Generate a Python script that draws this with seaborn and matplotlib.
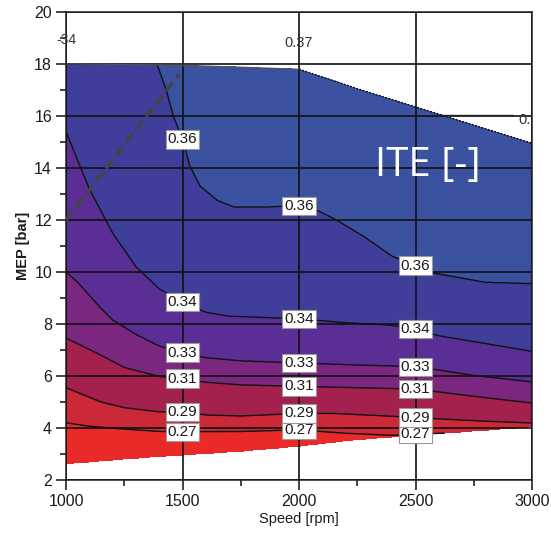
import numpy as np
import matplotlib
matplotlib.use("Agg")
import matplotlib.pyplot as plt
import seaborn as sns
import pandas as pd

# ---------------- data ----------------
# operating envelope
speed_bound = [1000, 1250, 1500, 1750, 2000, 2250, 2500, 2750, 3000]
mep_bottom = [2.62, 2.80, 2.96, 3.10, 3.30, 3.55, 3.72, 3.88, 4.04]
mep_top = [18.0, 17.98, 17.95, 17.88, 17.80, 17.05, 16.35, 15.65, 14.95]

# ITE iso-lines (speed [rpm], MEP [bar])
ite_levels = [0.27, 0.29, 0.31, 0.33, 0.34, 0.36]
c027_speed = [1000, 1100, 1250, 1400, 1500, 1750, 2000, 2200, 2400, 2600, 2800, 3000]
c027_mep = [4.20, 4.07, 3.96, 3.87, 3.86, 3.87, 3.93, 3.80, 3.72, 3.80, 3.80, 3.90]
c029_speed = [1000, 1150, 1250, 1400, 1500, 1600, 1750, 1850, 2000, 2150, 2400, 2600, 2800, 3000]
c029_mep = [5.55, 5.00, 4.78, 4.62, 4.62, 4.50, 4.46, 4.50, 4.56, 4.56, 4.45, 4.35, 4.26, 4.19]
c031_speed = [1000, 1150, 1250, 1400, 1500, 1600, 1750, 2000, 2250, 2500, 2750, 3000]
c031_mep = [7.46, 6.80, 6.33, 5.98, 5.90, 5.76, 5.66, 5.60, 5.55, 5.50, 5.22, 4.96]
c033_speed = [1000, 1050, 1100, 1150, 1200, 1300, 1400, 1500, 1600, 1750, 2000, 2250, 2500, 2750, 3000]
c033_mep = [10.0, 9.60, 9.10, 8.60, 8.15, 7.60, 7.15, 6.90, 6.70, 6.58, 6.50, 6.42, 6.36, 6.02, 5.77]
c034_speed = [1000, 1050, 1100, 1150, 1200, 1300, 1400, 1500, 1600, 1700, 2000, 2200, 2400, 2500, 2600, 2800, 3000]
c034_mep = [15.4, 14.3, 13.2, 12.35, 11.5, 10.2, 9.35, 8.85, 8.45, 8.30, 8.20, 8.05, 7.95, 7.80, 7.55, 7.25, 6.95]
c036_speed = [1000, 1300, 1390, 1430, 1460, 1500, 1530, 1575, 1650, 1720, 1870, 2000, 2060, 2160, 2280, 2400, 2500, 2575, 2800, 3000]
c036_mep = [21.0, 20.0, 18.0, 17.0, 16.0, 15.1, 14.1, 13.3, 12.75, 12.5, 12.5, 12.55, 12.45, 12.0, 11.35, 10.6, 10.25, 9.96, 9.6, 9.55]

label_speeds = [1500, 2000, 2500]

# dashed diagonal
diag_speed = [1000, 1485]
diag_mep = [12.0, 17.6]

band_colors = ["#ea2a28", "#cb2838", "#a3204f", "#7b2780", "#5b2e96", "#3f3f9b", "#3b52a0"]

# ---------------- style ----------------
sns.set_theme(style="ticks")
plt.rcParams["font.family"] = ["Liberation Sans", "DejaVu Sans"]

fig = plt.figure(figsize=(5.51, 5.33), dpi=100)
ax = fig.add_axes([66 / 551, 1 - 480 / 533, (532 - 66) / 551, (480 - 12) / 533])

# ---------------- field built from iso-lines ----------------
curves = [(c027_speed, c027_mep), (c029_speed, c029_mep), (c031_speed, c031_mep),
          (c033_speed, c033_mep), (c034_speed, c034_mep), (c036_speed, c036_mep)]
xs = np.linspace(1000, 3000, 801)
ys = np.linspace(2, 20, 1201)
cy = np.array([np.interp(xs, s, m) for s, m in curves])
stack = np.vstack([cy[0] - 3, cy, cy[-1] + 5])
zvals = [0.24] + ite_levels + [0.365]
Z = np.empty((len(ys), len(xs)))
for i in range(len(xs)):
    Z[:, i] = np.interp(ys, stack[:, i], zvals)
bot = np.interp(xs, speed_bound, mep_bottom)
top = np.interp(xs, speed_bound, mep_top)
mask = (ys[:, None] < bot[None, :]) | (ys[:, None] > top[None, :])
Zm = np.ma.array(Z, mask=mask)

ax.contourf(xs, ys, Zm, levels=[0.2] + ite_levels + [0.4], colors=band_colors, zorder=1)
cs = ax.contour(xs, ys, Zm, levels=ite_levels, colors="#111111", linewidths=1.0, zorder=2)

# contour labels on white boxes
for lev, (s, m) in zip(ite_levels, curves):
    for x in label_speeds:
        ax.text(x, float(np.interp(x, s, m)), f"{lev:.2f}", ha="center", va="center",
                fontsize=11, color="#1a1a1a", zorder=4,
                bbox=dict(facecolor="white", edgecolor="#9a9a9a", linewidth=0.8, pad=1.5))

# envelope top edge
edge = pd.DataFrame({"speed": speed_bound, "mep": mep_top})
e1 = edge[edge.speed <= 2000]
e2 = edge[edge.speed >= 2000]
ax.plot(e1.speed, e1.mep, color="#555555", lw=0.8, zorder=3)
ax.plot(e2.speed, e2.mep, color="#111111", lw=1.1, ls=(0, (1.2, 1.0)), zorder=3)

# dashed diagonal
diag = pd.DataFrame({"speed": diag_speed, "mep": diag_mep})
sns.lineplot(data=diag, x="speed", y="mep", ax=ax, color="#444444", lw=2.5,
             zorder=3, legend=False)
ax.lines[-1].set_dashes((3.2, 1.5))

# stray boundary labels
ax.text(1000, 18.92, "-34", ha="center", va="center", fontsize=10, color="#333333", zorder=4)
ax.text(2000, 18.8, "0.37", ha="center", va="center", fontsize=10.5, color="#333333", zorder=4)
ax.plot([2592, 2918], [16.04, 16.04], color="#222222", lw=1.0, zorder=3)
ax.text(2940, 15.85, "0.36", ha="left", va="center", fontsize=10.5, color="#333333",
        zorder=4, clip_on=True)

ax.text(2554, 14.1, "ITE [-]", ha="center", va="center", fontsize=29, color="white",
        family=["Open Sans", "DejaVu Sans"], zorder=4)

# ---------------- axes ----------------
ax.set_xlim(1000, 3000)
ax.set_ylim(2, 20)
ax.set_xticks([1000, 1500, 2000, 2500, 3000])
ax.set_xticks([1250, 1750, 2250, 2750], minor=True)
ax.set_yticks(range(2, 21, 2))
ax.set_yticks(range(3, 20, 2), minor=True)
ax.grid(True, which="major", color="#111111", lw=1.2)
ax.set_axisbelow(False)
ax.tick_params(which="major", direction="out", length=7, width=1.2, color="#222222",
               labelsize=11.5, labelcolor="#1a1a1a", pad=3)
ax.tick_params(which="minor", direction="out", length=4.5, width=1.2, color="#222222")
for sp in ax.spines.values():
    sp.set_visible(True)
    sp.set_color("#333333")
    sp.set_linewidth(1.2)

ax.set_xlabel("Speed [rpm]", fontsize=10.5, color="#1a1a1a", labelpad=2)
ax.set_ylabel("MEP [bar]", fontsize=10.5, color="#1a1a1a", fontweight="bold", labelpad=3)

fig.savefig("out.png", dpi=100)
